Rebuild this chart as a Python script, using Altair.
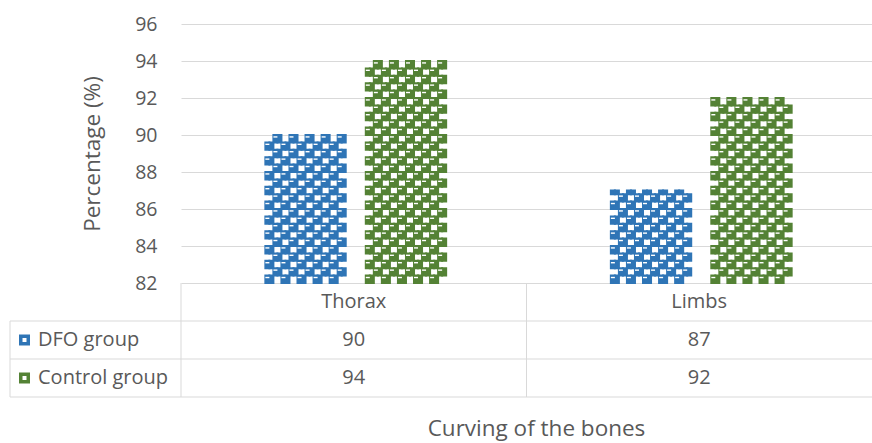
import math

import altair as alt
import pandas as pd

# ---- data -------------------------------------------------------------
categories = ["Thorax", "Limbs"]
series = ["DFO group", "Control group"]
dfo_values = [90, 87]
control_values = [94, 92]
y_ticks = [82, 84, 86, 88, 90, 92, 94, 96]

# ---- style ------------------------------------------------------------
BLUE = "#2f75b6"
GREEN = "#548235"
TEXT = "#595959"
GRID = "#d9d9d9"
FONT = "Open Sans"
LABEL_SIZE = 19.5
TITLE_SIZE = 22.5

W, H = 691, 259          # plot area
Y_MIN, Y_MAX = 82, 96

# checker fill geometry: each category band is split into narrow slots;
# a bar is 10 checker columns wide, each column two slots
N_SLOTS = 86             # slots per category band
LEAD = 21                # empty slots before the first bar
CELL_COLS = 10
GAP_SLOTS = 5            # gap between the two bars, in slots
ROW_STEP = 0.4           # checker row height in data units

values = {"DFO group": dfo_values, "Control group": control_values}
palette = {"DFO group": BLUE, "Control group": GREEN}

long_df = pd.DataFrame(
    [
        {"category": c, "series": s, "value": values[s][i]}
        for i, c in enumerate(categories)
        for s in series
    ]
)

# build the checker cells of every bar from its value
cells, dashes = [], []
for ci, cat in enumerate(categories):
    for si, s in enumerate(series):
        v = values[s][ci]
        base = LEAD + si * (2 * CELL_COLS + GAP_SLOTS)
        nrows = math.ceil((v - Y_MIN) / ROW_STEP - 1e-9)
        for k in range(nrows):
            y0 = Y_MIN + k * ROW_STEP
            y1 = min(y0 + ROW_STEP, v)
            for j in range(CELL_COLS):
                if (j + k) % 2:
                    continue
                for h in (0, 1):
                    cells.append(
                        {"category": cat, "series": s, "slot": base + 2 * j + h,
                         "y0": y0, "y1": y1}
                    )
                if y1 - y0 >= ROW_STEP - 1e-9:
                    dashes.append(
                        {"category": cat, "series": s, "slot": base + 2 * j,
                         "y": y0 + 0.74 * ROW_STEP}
                    )
cells_df = pd.DataFrame(cells)
dashes_df = pd.DataFrame(dashes)

slot_domain = list(range(N_SLOTS))
slot_px = (W / 2) / N_SLOTS

x_scale = alt.Scale(domain=categories, paddingInner=0, paddingOuter=0)
xo_scale = alt.Scale(domain=slot_domain, paddingInner=0, paddingOuter=0)
y_scale = alt.Scale(domain=[Y_MIN, Y_MAX], zero=False, nice=False)
color_scale = alt.Scale(domain=series, range=[BLUE, GREEN])

x_axis = alt.Axis(
    title="Curving of the bones", labels=False, ticks=False, domain=False, grid=False,
    titleFont=FONT, titleFontSize=TITLE_SIZE, titleFontWeight="normal", titleColor=TEXT,
    titleX=355, titleY=152, titleAlign="center", titleBaseline="alphabetic",
)
y_axis = alt.Axis(
    values=y_ticks, tickCount=len(y_ticks), title="Percentage (%)",
    grid=True, gridColor=GRID, gridWidth=1,
    domain=False, ticks=False, labelFont=FONT, labelFontSize=LABEL_SIZE,
    labelColor=TEXT, labelPadding=24, labelOverlap=False, labelFlush=False,
    titleFont=FONT, titleFontSize=TITLE_SIZE, titleFontWeight="normal", titleColor=TEXT,
    titleX=-89, titleY=H / 2, titleAngle=270, titleAlign="center", titleBaseline="middle",
)

# ---- patterned bars -------------------------------------------------------
bars = alt.Chart(cells_df).mark_bar(strokeWidth=2).encode(
    x=alt.X("category:N", scale=x_scale, axis=x_axis, sort=categories),
    xOffset=alt.XOffset("slot:O", scale=xo_scale),
    y=alt.Y("y1:Q", scale=y_scale, axis=y_axis),
    y2="y0:Q",
    color=alt.Color("series:N", scale=color_scale, legend=None),
    stroke=alt.Stroke("series:N", scale=color_scale, legend=None),
)

dash_shape = "M-1,-0.35L1,-0.35L1,0.35L-1,0.35Z"
dash_marks = alt.Chart(dashes_df).mark_point(
    shape=dash_shape, size=16, filled=True, fill="white", opacity=1, strokeWidth=0,
    dx=slot_px / 2,
).encode(
    x=alt.X("category:N", scale=x_scale, sort=categories),
    xOffset=alt.XOffset("slot:O", scale=xo_scale),
    y=alt.Y("y:Q", scale=y_scale),
)

# ---- data table under the plot -----------------------------------------------
ROW_H = 38
TABLE_LEFT = -171
row_top = [H, H + ROW_H, H + 2 * ROW_H]
table_bottom = H + 3 * ROW_H
blank = alt.Data(values=[{}])


def hline(y, x0):
    return alt.Chart(blank).mark_rule(color=GRID, strokeWidth=1).encode(
        x=alt.value(x0), x2=alt.value(W), y=alt.value(y)
    )


def vline(x, y0):
    return alt.Chart(blank).mark_rule(color=GRID, strokeWidth=1).encode(
        x=alt.value(x), y=alt.value(y0), y2=alt.value(table_bottom)
    )


lines = [
    hline(row_top[1], TABLE_LEFT),
    hline(row_top[2], TABLE_LEFT),
    hline(table_bottom, TABLE_LEFT),
    vline(0, H),
    vline(W / 2, H),
    vline(TABLE_LEFT, row_top[1]),
]

text_style = dict(font=FONT, fontSize=LABEL_SIZE + 0.5, color=TEXT, baseline="middle")

header = alt.Chart(pd.DataFrame({"category": categories})).mark_text(**text_style).encode(
    x=alt.X("category:N", scale=x_scale, sort=categories),
    y=alt.value(H + ROW_H / 2),
    text="category:N",
)

value_rows, row_labels, keys = [], [], []
for i, s in enumerate(series):
    yc = row_top[i + 1] + ROW_H / 2
    value_rows.append(
        alt.Chart(long_df).transform_filter(alt.datum.series == s).mark_text(**text_style).encode(
            x=alt.X("category:N", scale=x_scale, sort=categories),
            y=alt.value(yc),
            text="value:Q",
        )
    )
    row_labels.append(
        alt.Chart(alt.Data(values=[{"label": s}])).mark_text(align="left", **text_style).encode(
            x=alt.value(-143), y=alt.value(yc), text="label:N"
        )
    )
    keys.append(
        alt.Chart(blank).mark_point(shape="square", size=121, filled=True, opacity=1,
                                    color=palette[s]).encode(
            x=alt.value(-156.5), y=alt.value(yc)
        )
    )
    keys.append(
        alt.Chart(blank).mark_point(shape="square", size=16, filled=True, opacity=1,
                                    color="white").encode(
            x=alt.value(-156.5), y=alt.value(yc)
        )
    )

chart = alt.layer(
    bars, dash_marks, *lines, header, *value_rows, *row_labels, *keys
).properties(
    width=W,
    height=H,
    autosize=alt.AutoSizeParams(type="none"),
    padding={"left": 181, "top": 24, "right": 0, "bottom": 160},
    background="white",
).configure_view(stroke=None)

chart.save("out.html", embed_options={"renderer": "svg", "actions": False})
